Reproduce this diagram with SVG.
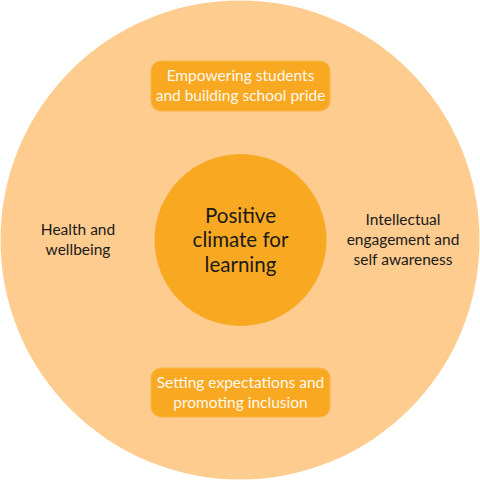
<svg xmlns="http://www.w3.org/2000/svg" width="480" height="480" viewBox="0 0 480 480">
<style>
.lbl{font-family:Lato,"Open Sans","Liberation Sans",sans-serif;text-anchor:middle;}
.dark{fill:#1a1a1a;font-size:15.5px;}
.light{fill:#FFF8EC;font-size:15.5px;}
.center{fill:#1a1a1a;font-size:20.5px;}
.box{fill:#F9A822;stroke:#FBB445;stroke-width:1;}
</style>
<rect width="480" height="480" fill="#ffffff"/>
<g id="outer">
<circle cx="240" cy="240" r="239.5" fill="#FECC8E"/>
</g>
<g id="connectors"/>
<g id="center-node">
<circle cx="240.5" cy="240" r="86" fill="#F9A822"/>
<text class="lbl center" x="240.5" y="223">Positive</text>
<text class="lbl center" x="240.5" y="247">climate for</text>
<text class="lbl center" x="240.5" y="272">learning</text>
</g>
<g id="top-node">
<rect class="box" x="151" y="61" width="179" height="50" rx="10"/>
<text class="lbl light" x="240.5" y="81">Empowering students</text>
<text class="lbl light" x="240.5" y="101">and building school pride</text>
</g>
<g id="bottom-node">
<rect class="box" x="151" y="368" width="179" height="49" rx="10"/>
<text class="lbl light" x="240.5" y="388">Setting expectations and</text>
<text class="lbl light" x="240.5" y="408">promoting inclusion</text>
</g>
<g id="left-node">
<text class="lbl dark" x="78" y="235">Health and</text>
<text class="lbl dark" x="78" y="255">wellbeing</text>
</g>
<g id="right-node">
<text class="lbl dark" x="403" y="225">Intellectual</text>
<text class="lbl dark" x="403" y="245">engagement and</text>
<text class="lbl dark" x="403" y="265">self awareness</text>
</g>
</svg>
